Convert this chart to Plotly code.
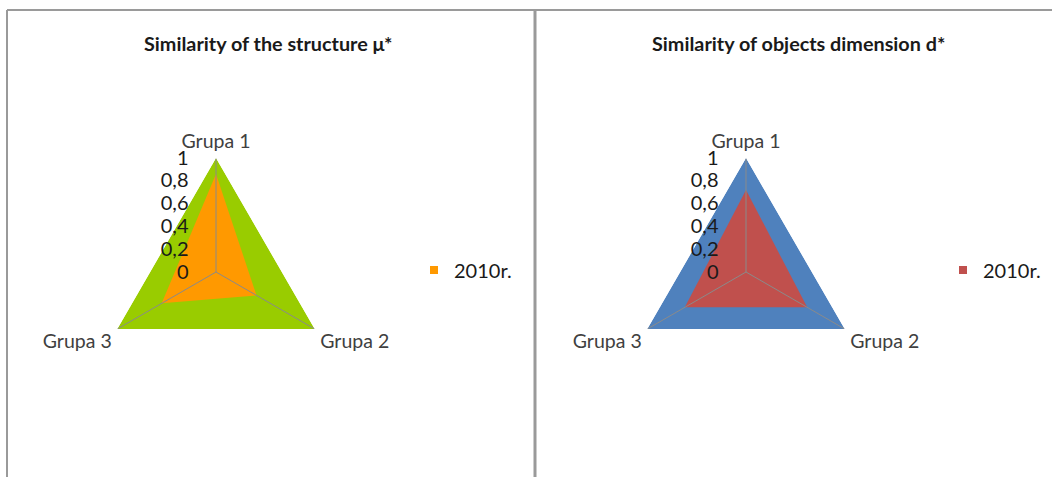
import plotly.graph_objects as go

# Radar data: similarity indicators per group
categories = ["Grupa 1", "Grupa 2", "Grupa 3"]
full_scale = [1, 1, 1]
structure_2010 = [0.86, 0.41, 0.55]
dimension_2010 = [0.72, 0.62, 0.62]
radial_ticks = [0, 0.2, 0.4, 0.6, 0.8, 1]

series_name = "2010r."
titles = ["Similarity of the structure \u03bc*", "Similarity of objects dimension d*"]

W, H = 1052, 477
FONT = "Lato"
LABEL_GRAY = "#404040"
SPOKE = "#8a8a8a"


def closed(values):
    return list(values) + [values[0]]


def px_x(x):
    return x / W


def px_y(y):
    return 1 - y / H


fig = go.Figure()

panels = [
    dict(polar="polar", legend="legend", back="#99CC00", front="#FF9900",
         values=structure_2010, cx=216, cy=272, leg_x=414),
    dict(polar="polar2", legend="legend2", back="#4F81BD", front="#C0504D",
         values=dimension_2010, cx=746, cy=272, leg_x=943),
]

R = 114
for p in panels:
    fig.add_trace(go.Scatterpolar(
        r=closed(full_scale), theta=closed(categories), subplot=p["polar"],
        mode="lines", fill="toself", fillcolor=p["back"],
        line=dict(width=0, color=p["back"]), showlegend=False, hoverinfo="skip"))
    fig.add_trace(go.Scatterpolar(
        r=closed(p["values"]), theta=closed(categories), subplot=p["polar"],
        mode="lines", fill="toself", fillcolor=p["front"],
        line=dict(width=0, color=p["front"]), name=series_name,
        showlegend=False))
    # spokes from the centre to each group's vertex
    for cat in categories:
        fig.add_trace(go.Scatterpolar(
            r=[0, max(full_scale)], theta=[cat, cat], subplot=p["polar"],
            mode="lines", line=dict(color=SPOKE, width=1),
            showlegend=False, hoverinfo="skip"))
    # legend swatch for the series
    fig.add_trace(go.Scatterpolar(
        r=[None], theta=[None], subplot=p["polar"], mode="markers",
        marker=dict(symbol="square", size=8, color=p["front"]),
        name=series_name, legend=p["legend"], showlegend=True))

polar_common = dict(
    gridshape="linear",
    bgcolor="rgba(0,0,0,0)",
    angularaxis=dict(
        type="category", categoryarray=categories, rotation=90,
        direction="clockwise", showgrid=False, showline=False,
        ticks="outside", ticklen=2, tickcolor="rgba(0,0,0,0)",
        tickfont=dict(family=FONT, size=19.5, color=LABEL_GRAY),
    ),
    radialaxis=dict(
        range=[0, 1], tickvals=radial_ticks, angle=90, tickangle=90,
        side="counterclockwise", showgrid=False, showline=False,
        ticks="outside", ticklen=20, tickcolor="rgba(0,0,0,0)",
        layer="above traces",
        tickfont=dict(family=FONT, size=20, color="#1a1a1a"),
    ),
)

layout = dict(
    width=W, height=H, margin=dict(l=0, r=0, t=0, b=0),
    paper_bgcolor="white", plot_bgcolor="white",
    separators=", ",
    font=dict(family=FONT, color=LABEL_GRAY),
)

for p in panels:
    pol = dict(polar_common)
    pol["domain"] = dict(x=[px_x(p["cx"] - R), px_x(p["cx"] + R)],
                         y=[px_y(p["cy"] + R), px_y(p["cy"] - R)])
    layout[p["polar"]] = pol
    layout[p["legend"]] = dict(
        x=px_x(p["leg_x"]), y=px_y(270), xanchor="left", yanchor="middle",
        bgcolor="rgba(0,0,0,0)",
        font=dict(family=FONT, size=20, color="#1a1a1a"))

fig.update_layout(**layout)

# chart titles
for title, cx in zip(titles, [268, 798]):
    fig.add_annotation(
        text="<b>" + title + "</b>", x=px_x(cx), y=px_y(43),
        xref="paper", yref="paper", xanchor="center", yanchor="middle",
        showarrow=False, font=dict(family=FONT, size=19.8, color="#1a1a1a"))

# chart-area frames
frame = dict(color="#9a9a9a", width=2)
fig.add_shape(type="line", xref="paper", yref="paper",
              x0=px_x(7), x1=1, y0=px_y(10), y1=px_y(10), line=frame)
fig.add_shape(type="line", xref="paper", yref="paper",
              x0=px_x(7), x1=px_x(7), y0=px_y(10), y1=0, line=frame)
fig.add_shape(type="line", xref="paper", yref="paper",
              x0=px_x(535), x1=px_x(535), y0=px_y(10), y1=0,
              line=dict(color="#9a9a9a", width=3))

fig.write_html("out.html")
